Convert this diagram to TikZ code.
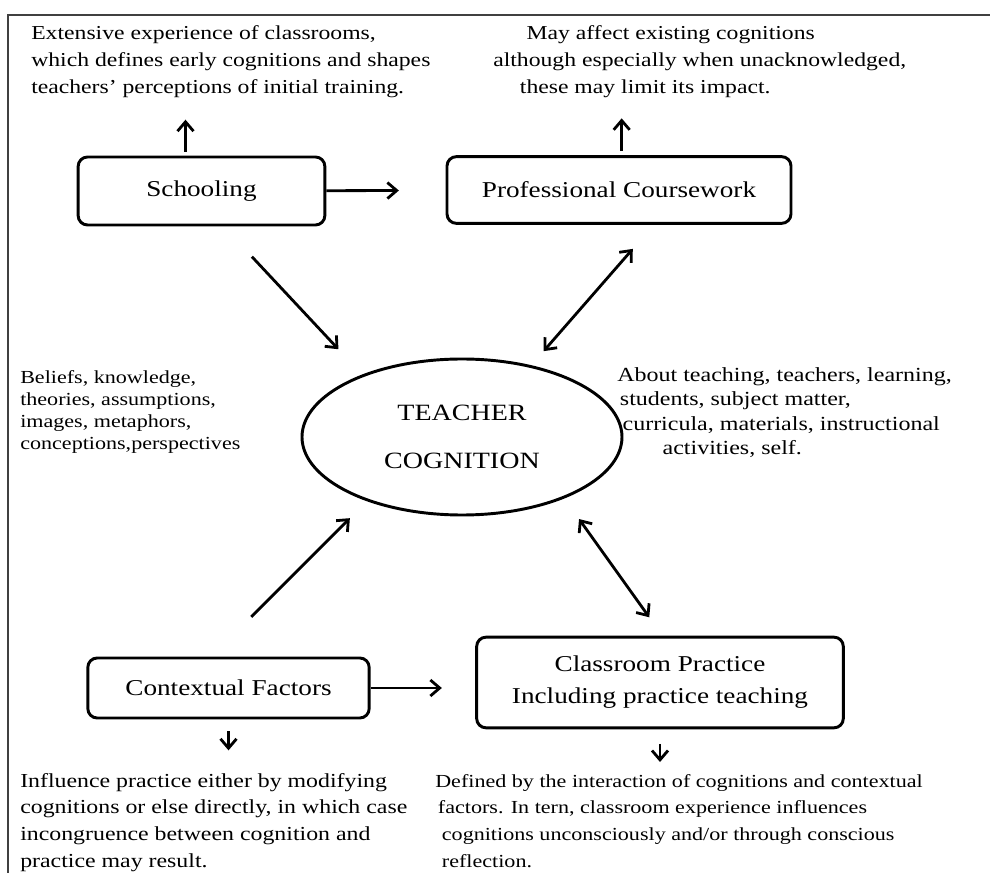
\documentclass[tikz,border=0pt]{standalone}
\usepackage{fontspec}
\setmainfont{Liberation Serif}[FakeStretch=1.2]
\usetikzlibrary{arrows.meta, shapes.geometric, positioning}
\tikzset{
  x=0.75pt, y=-0.75pt, % one unit is one pixel of the layout, y runs down
  box/.style={draw, rounded corners=7pt, line width=2.2pt, inner sep=0pt,
    align=center, font=\fontsize{17}{24}\selectfont}, % the four stages
  note/.style={inner sep=0pt, align=left, anchor=north west,
    font=\fontsize{14.8}{20.5}\selectfont}, % comments around the stages
  tip/.tip={Straight Barb[length=7pt,width=12pt]},
  arr/.style={line width=2.1pt, -tip}, % one way
  both/.style={line width=2.1pt, tip-tip}, % two ways
}

\begin{document}
\begin{tikzpicture}
  \useasboundingbox (0,0) rectangle (990,873);
  \draw[line width=1.5pt, black!75] (8,15) rectangle (1000,900);

  % stages
  \node[box, minimum width=185pt, minimum height=51pt] (schooling) at (201.5,191) {Schooling};
  \node[box, minimum width=258pt, minimum height=50pt] (coursework) at (619,190) {Professional Coursework};
  \node[draw, ellipse, line width=2.2pt, inner sep=0pt, minimum width=240pt, minimum height=117pt,
    align=center, font=\fontsize{17.5}{36}\selectfont] (cognition) at (462,437) {TEACHER\\COGNITION};
  \node[box, minimum width=211pt, minimum height=45pt] (context) at (228.5,688) {Contextual Factors};
  \node[box, minimum width=275pt, minimum height=68pt] (practice) at (660,682.5)
    {Classroom Practice\\Including practice teaching};

  % comments
  \node[note] (early) at (31,25)
    {Extensive experience of classrooms,\\which defines early cognitions and shapes\\teachers' perceptions of initial training.};
  \node[note] (affect) at (493,25)
    {\hspace*{25pt}May affect existing cognitions\\although especially when unacknowledged,\\\hspace*{20pt}these may limit its impact.};
  \node[note, font=\fontsize{13.8}{16.5}\selectfont] (beliefs) at (20,370)
    {Beliefs, knowledge,\\theories, assumptions,\\images, metaphors,\\conceptions,perspectives};
  \node[note, font=\fontsize{15}{18.4}\selectfont] (about) at (617,367)
    {About teaching, teachers, learning,\\\hspace*{2pt}students, subject matter,\\\hspace*{4pt}curricula, materials, instructional\\\hspace*{34pt}activities, self.};
  \node[note, font=\fontsize{14.9}{20}\selectfont] (influence) at (20,773)
    {Influence practice either by modifying\\cognitions or else directly, in which case\\incongruence between cognition and\\practice may result.};
  \node[note, font=\fontsize{13.8}{20}\selectfont] (defined) at (435,774)
    {Defined by the interaction of cognitions and contextual\\\hspace*{2pt}factors. In tern, classroom experience influences\\\hspace*{5pt}cognitions unconsciously and/or through conscious\\\hspace*{5pt}reflection.};

  % arrows
  \draw[arr, shorten >=35pt] (schooling) -- (coursework);
  \draw[arr, shorten >=25pt] (context.east) -- (context.east -| practice.west);
  \draw[arr, shorten <=31pt, shorten >=26pt] (schooling.-58) -- (cognition.148);
  \draw[both, shorten <=24pt, shorten >=14pt] (coursework.-45) -- (cognition.46);
  \draw[arr, shorten <=42pt, shorten >=18pt] (context.118) -- (cognition.214);
  \draw[both, shorten <=19pt, shorten >=17pt] (cognition.-31) -- (practice.87);

  \draw[arr, shorten <=3pt, shorten >=16pt] ([xshift=-12pt]schooling.north) -- ([xshift=-12pt]schooling.north |- early.south);
  \draw[arr, shorten <=3pt, shorten >=15pt] ([xshift=2pt]coursework.north) -- ([xshift=2pt]coursework.north |- affect.south);
  \draw[arr, shorten <=9pt, shorten >=17pt] (context.south) -- (context.south |- influence.north);
  \draw[arr, shorten <=11pt, shorten >=9pt] (practice.south) -- (practice.south |- defined.north);
\end{tikzpicture}
\end{document}
